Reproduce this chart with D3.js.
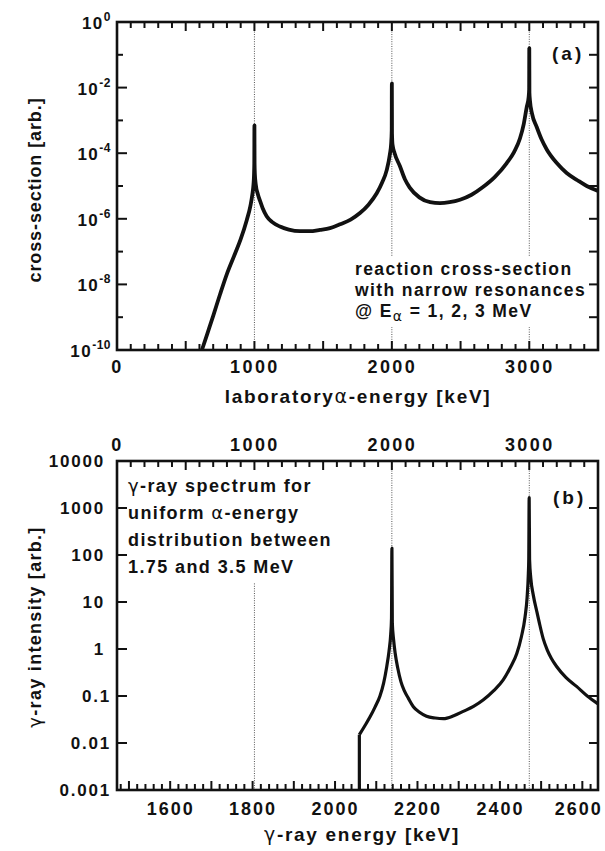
<!DOCTYPE html>
<html><head><meta charset="utf-8">
<script src="https://cdn.jsdelivr.net/npm/d3@7"></script>
<style>
body{margin:0;background:#fff;}
svg{display:block;background:#fff;}
text{font-family:"Liberation Sans",Arial,Helvetica,sans-serif;font-weight:bold;fill:#111;}
.tick text{font-size:18px;letter-spacing:2.4px;}
</style></head><body>
<svg id="c" width="605" height="851"></svg>
<script>
// ---------------- data ----------------
const alphaEnergy = [618,660,700,750,800,860,900,944,970,985,993,997,999,1000,1001,1003,1010,1025,1041,1060,1089,1130,1186,1250,1332,1400,1477,1550,1623,1700,1768,1830,1890,1930,1962,1985,1995,1999,2000,2001,2005,2020,2059,2095,2130,2200,2278,2350,2420,2496,2580,2663,2750,2836,2890,2932,2960,2981,2995,2999,3000,3001,3005,3020,3054,3090,3127,3200,3272,3350,3418,3500];
const crossSection = [1.0e-10,3.4e-10,1.1e-9,5.0e-9,2.1e-8,8.9e-8,2.4e-7,9.1e-7,2.4e-6,5.6e-6,1.1e-5,2.2e-5,5.0e-5,7.1e-4,5.0e-5,2.4e-5,1.1e-5,5.6e-6,3.5e-6,2.1e-6,1.2e-6,7.9e-7,5.8e-7,4.7e-7,4.2e-7,4.2e-7,4.6e-7,5.2e-7,6.8e-7,9.5e-7,1.5e-6,2.7e-6,6.0e-6,1.3e-5,3.0e-5,8.9e-5,2.0e-4,5.0e-4,1.35e-2,4.0e-4,1.8e-4,1.0e-4,4.0e-5,1.6e-5,8.9e-6,4.5e-6,3.2e-6,3.0e-6,3.2e-6,3.8e-6,5.4e-6,9.3e-6,1.9e-5,5.0e-5,1.1e-4,2.8e-4,7.9e-4,2.5e-3,5.0e-3,8.9e-3,0.16,7.1e-3,4.0e-3,1.6e-3,6.3e-4,2.6e-4,1.3e-4,5.0e-5,2.5e-5,1.5e-5,1.0e-5,7.1e-6];

const gammaEnergy = [2059,2059,2072,2085,2097,2109,2118,2125,2131,2135,2137,2138,2139,2142,2146,2152,2160,2168,2178,2190,2205,2222,2243,2263,2288,2311,2336,2360,2385,2408,2425,2441,2452,2461,2466,2469,2470,2471,2472,2475,2481,2489,2497,2505,2515,2525,2538,2560,2586,2612,2638];
const gammaIntensity = [0.001,0.015,0.023,0.036,0.058,0.1,0.19,0.4,0.9,2.0,4.5,140,3.5,1.6,0.8,0.4,0.2,0.13,0.089,0.059,0.045,0.037,0.034,0.033,0.038,0.047,0.060,0.083,0.13,0.22,0.4,0.8,1.8,4.8,12.6,40,80,1660,80,32,14,6.6,3.2,1.66,0.95,0.63,0.42,0.25,0.16,0.1,0.068];

const resonanceAlpha = [1000,2000,3000];
const alphaDomain = [0,3500];
const gammaDomain = [1471,2638];
const alphaTickLabels = [0,1000,2000,3000];
const gammaTickLabels = [1600,1800,2000,2200,2400,2600];
const csTickExponents = [0,-2,-4,-6,-8,-10];
const intensityTicks = [10000,1000,100,10,1,0.1,0.01,0.001];
const intensityTickLabels = ["10000","1000","100","10","1","0.1","0.01","0.001"];
const annotationA = ["reaction  cross-section","with  narrow  resonances"];
const annotationB = ["γ-ray  spectrum  for","uniform  α-energy","distribution  between","1.75  and  3.5  MeV"];

// ---------------- layout ----------------
const L=117,R=598,T1=22,B1=350,T2=461,B2=790;
const svg=d3.select('#c');
const xA1=d3.scaleLinear().domain(alphaDomain).range([L,R]);
const y1=d3.scaleLog().domain([1e-10,1]).range([B1,T1]);
const xG=d3.scaleLinear().domain(gammaDomain).range([L,R]);
const y2=d3.scaleLog().domain([1e-3,1e4]).range([B2,T2]);

function clean(g){g.attr('font-size',null).attr('font-family',null);g.select('.domain').remove();g.selectAll('.tick line').remove();}
const tickG=[];
function hTicks(scale,vals,y,len){ tickG.push({pos:vals.map(v=>scale(v)),fixed:y,len:len,dir:'h'}); }
function vTicks(scale,vals,x,len){ tickG.push({pos:vals.map(v=>scale(v)),fixed:x,len:len,dir:'v'}); }
const aMinor=d3.range(0,3501,100).filter(d=>d%500!==0);
const aMajor=d3.range(0,3501,500);
const logDec=(a,b)=>d3.range(a,b+1).map(e=>Math.pow(10,e));

// ---------- resonance dotted lines ----------
function vlines(y0,y1v){
  svg.append('g').selectAll('line').data(resonanceAlpha).join('line')
   .attr('x1',d=>xA1(d)).attr('x2',d=>xA1(d)).attr('y1',y0).attr('y2',y1v)
   .attr('stroke','#555').attr('stroke-width',1).attr('stroke-dasharray','1,1.4');
}
vlines(T1,B1); vlines(T2,B2);

// ---------- panel (a) ----------
hTicks(xA1,aMinor,B1,-6); hTicks(xA1,aMajor,B1,-9);
hTicks(xA1,aMinor,T1,6); hTicks(xA1,aMajor,T1,9);
vTicks(y1,logDec(-10,0).filter((d,i)=>i%2===1),L,6);
vTicks(y1,logDec(-10,0).filter((d,i)=>i%2===0),L,10);
vTicks(y1,logDec(-10,0),R,-9);
svg.append('g').attr('transform',`translate(0,${B1})`)
  .call(d3.axisBottom(xA1).tickValues(alphaTickLabels).tickSize(0).tickPadding(10).tickFormat(d3.format('d'))).call(clean);
const ylab=svg.append('g');
ylab.selectAll('text').data(csTickExponents).join('text')
  .attr('x',111).attr('y',d=>y1(Math.pow(10,d))+7).attr('text-anchor','end')
  .style('font-size','17px').style('letter-spacing','1.5px')
  .each(function(d){const t=d3.select(this);t.append('tspan').text('10');t.append('tspan').attr('dy',-8).style('font-size','12px').style('letter-spacing','0.5px').text(d===0?'0':'-'+(-d));});

const lineA=d3.line().x((d,i)=>xA1(alphaEnergy[i])).y((d,i)=>y1(crossSection[i])).curve(d3.curveMonotoneX);
svg.append('path').attr('d',lineA(alphaEnergy)).attr('fill','none').attr('stroke','#111').attr('stroke-width',3.8).attr('stroke-linejoin','round');

svg.append('rect').attr('x',350).attr('y',257).attr('width',240).attr('height',70).attr('fill','#fff');
const ta=svg.append('g').style('font-size','17.5px').style('letter-spacing','1.4px');
ta.selectAll('text.l').data(annotationA).join('text').attr('class','l').attr('x',355).attr('y',(d,i)=>275+i*21).text(d=>d);
const t3=ta.append('text').attr('x',355).attr('y',317);
t3.append('tspan').text('@ E');
t3.append('tspan').attr('dy',4).style('font-size','14px').style('font-weight','normal').style('font-family','DejaVu Sans').text('α');
t3.append('tspan').attr('dy',-4).text(' = 1, 2, 3 MeV');
svg.append('text').attr('x',552).attr('y',60).style('font-size','19px').style('letter-spacing','3px').text('(a)');

const xt=svg.append('text').attr('x',358).attr('y',403).attr('text-anchor','middle').style('font-size','19px').style('letter-spacing','1.7px');
xt.append('tspan').text('laboratory');
xt.append('tspan').style('font-family','DejaVu Sans').style('font-weight','normal').text('α');
xt.append('tspan').text('-energy  [keV]');
svg.append('text').attr('transform',`translate(41,190) rotate(-90)`).attr('text-anchor','middle')
  .style('font-size','18px').style('letter-spacing','0.9px').text('cross-section  [arb.]');

// ---------- panel (b) ----------
const gMinor=d3.range(1480,2638,20).filter(d=>d%100!==0);
const gMajor=d3.range(1500,2638,100);
hTicks(xG,gMinor,B2,-6); hTicks(xG,gMajor,B2,-9);
hTicks(xA1,aMinor,T2,6); hTicks(xA1,aMajor,T2,9);
vTicks(y2,intensityTicks,L,10);
vTicks(y2,intensityTicks,R,-9);
svg.append('g').attr('transform',`translate(0,${B2})`)
  .call(d3.axisBottom(xG).tickValues(gammaTickLabels).tickSize(0).tickPadding(12).tickFormat(d3.format('d'))).call(clean)
  .selectAll('.tick text').style('letter-spacing','2px').attr('dx',d=>d===2600?'-4':'0');
svg.append('g').attr('transform',`translate(0,${T2})`)
  .call(d3.axisTop(xA1).tickValues(alphaTickLabels).tickSize(0).tickPadding(10).tickFormat(d3.format('d'))).call(clean);
svg.append('g').attr('transform',`translate(${L},0)`)
  .call(d3.axisLeft(y2).tickValues(intensityTicks).tickSize(0).tickPadding(12).tickFormat((d,i)=>intensityTickLabels[i])).call(clean)
  .selectAll('.tick text').attr('dx',d=>d<1?'6':'0').style('font-size','17px').style('letter-spacing','1.8px');

const stepB=d3.line().x((d,i)=>xG(gammaEnergy[i])).y((d,i)=>y2(gammaIntensity[i]));
svg.append('path').attr('d',stepB([0,1])).attr('fill','none').attr('stroke','#111').attr('stroke-width',3.2);
const lineB=d3.line().x(d=>xG(gammaEnergy[d])).y(d=>y2(gammaIntensity[d])).curve(d3.curveMonotoneX);
svg.append('path').attr('d',lineB(d3.range(1,gammaEnergy.length))).attr('fill','none').attr('stroke','#111').attr('stroke-width',3.2).attr('stroke-linejoin','round');

svg.append('rect').attr('x',120).attr('y',464).attr('width',226).attr('height',118).attr('fill','#fff');
const tb=svg.append('g').style('font-size','18px').style('letter-spacing','1.4px');
tb.selectAll('text').data(annotationB).join('text').attr('x',128).attr('y',(d,i)=>492+i*27)
  .each(function(d){const t=d3.select(this);
    if(d.indexOf('α')>=0){const p=d.split('α');t.append('tspan').text(p[0]);t.append('tspan').style('font-family','DejaVu Sans').style('font-weight','normal').text('α');t.append('tspan').text(p[1]);}
    else if(d.indexOf('γ')===0){t.append('tspan').style('font-family','DejaVu Sans').style('font-weight','normal').text('γ');t.append('tspan').text(d.slice(1));}
    else t.text(d);});
svg.append('text').attr('x',553).attr('y',504).style('font-size','19px').style('letter-spacing','3px').text('(b)');

const xt2=svg.append('text').attr('x',362).attr('y',841).attr('text-anchor','middle').style('font-size','19px').style('letter-spacing','1.7px');
xt2.append('tspan').style('font-family','DejaVu Sans').style('font-weight','normal').text('γ');
xt2.append('tspan').text('-ray  energy  [keV]');
const yt2=svg.append('text').attr('transform',`translate(41,627) rotate(-90)`).attr('text-anchor','middle')
  .style('font-size','18px').style('letter-spacing','1.3px');
yt2.append('tspan').style('font-family','DejaVu Sans').style('font-weight','normal').text('γ');
yt2.append('tspan').text('-ray  intensity  [arb.]');

// inward tick marks and frames
const tk=svg.append('g').attr('class','ticks');
tickG.forEach(t=>{
  tk.append('g').selectAll('line').data(t.pos).join('line')
    .attr('x1',p=>t.dir==='h'?p:t.fixed).attr('x2',p=>t.dir==='h'?p:t.fixed+t.len)
    .attr('y1',p=>t.dir==='h'?t.fixed:p).attr('y2',p=>t.dir==='h'?t.fixed+t.len:p)
    .attr('stroke','#111').attr('stroke-width',2);
});
svg.append('rect').attr('x',L).attr('y',T1).attr('width',R-L).attr('height',B1-T1).attr('fill','none').attr('stroke','#111').attr('stroke-width',2.6);
svg.append('rect').attr('x',L).attr('y',T2).attr('width',R-L).attr('height',B2-T2).attr('fill','none').attr('stroke','#111').attr('stroke-width',2.6);
</script></body></html>
